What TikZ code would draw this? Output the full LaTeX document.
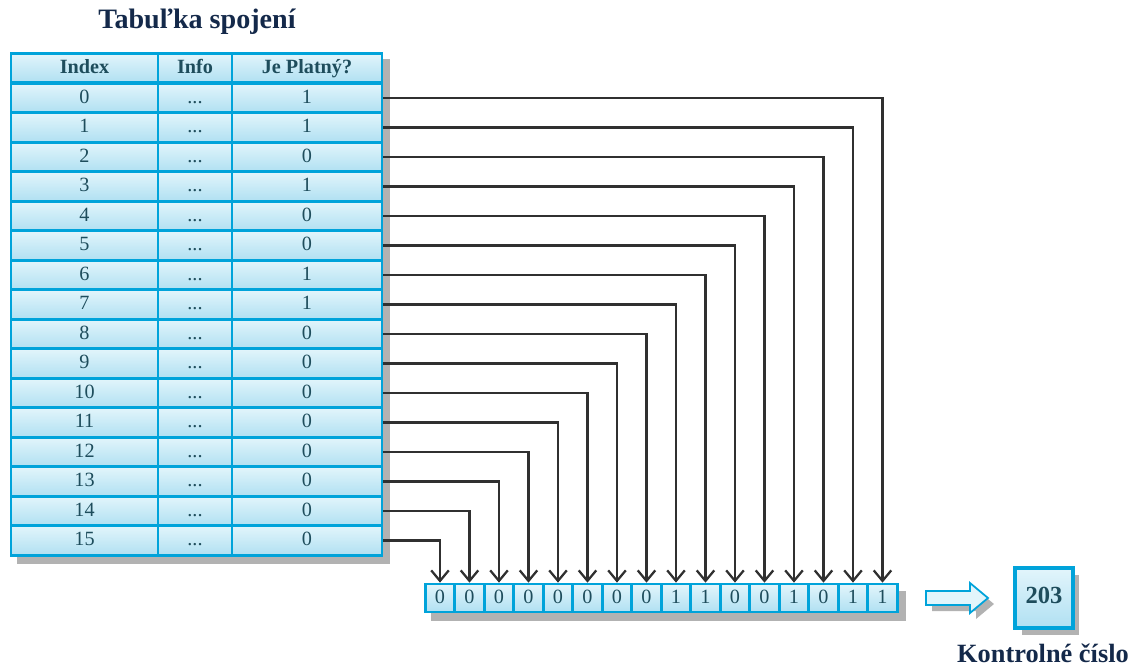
\documentclass[tikz,border=0pt]{standalone}
\usepackage{fontspec}
\setmainfont{Liberation Serif}
\usetikzlibrary{arrows.meta,positioning,shadows,backgrounds}
\definecolor{cellline}{HTML}{00A3DA}
\definecolor{celltop}{HTML}{E2F5FB}
\definecolor{cellbot}{HTML}{B0E0F2}
\definecolor{celltext}{HTML}{1E4D5C}
\definecolor{titletext}{HTML}{14294A}
\definecolor{wire}{HTML}{303030}

\begin{document}
\begin{tikzpicture}[x=0.02cm, y=-0.02cm,
  cell/.style={draw=cellline, line width=1.5pt, top color=celltop, bottom color=cellbot,
               text=celltext, inner sep=0pt, minimum height=0.59cm, text height=1.6ex, text depth=0.3ex,
               font=\fontsize{11.5}{13}\selectfont},
  head/.style={cell, font=\fontsize{11.5}{13}\selectfont\bfseries},
  bitcell/.style={cell, minimum width=0.59cm, minimum height=0.56cm},
  title/.style={text=titletext, font=\fontsize{16}{18}\selectfont\bfseries},
  shade/.style={fill=black!30},
  shadowbox/.style={drop shadow={shadow xshift=0.13cm, shadow yshift=-0.13cm, fill=black!30, opacity=1}},
  arr/.style={draw=wire, line width=1.3pt, -{Straight Barb[length=6pt,width=10pt]}}]
\useasboundingbox (0,0) rectangle (1134,667);

% table of links
\node[title] (tabtitle) at (197,22) {Tabuľka spojení};
\node[head, minimum width=2.94cm] (hidx) at (84.5,68) {Index};
\node[head, minimum width=1.48cm] (hinfo) at (195,68) {Info};
\node[head, minimum width=3.0cm] (hvalid) at (307,68) {Je Platný?};
\foreach \i/\v in {0/1,1/1,2/0,3/1,4/0,5/0,6/1,7/1,8/0,9/0,10/0,11/0,12/0,13/0,14/0,15/0} {
  \node[cell, minimum width=2.94cm] (idx\i) at (84.5,{98+29.5*\i}) {\i};
  \node[cell, minimum width=1.48cm] (info\i) at (195,{98+29.5*\i}) {...};
  \node[cell, minimum width=3.0cm] (valid\i) at (307,{98+29.5*\i}) {\v};
}

% bit vector
\foreach \b [count=\j from 0] in {0,0,0,0,0,0,0,0,1,1,0,0,1,0,1,1}
  \node[bitcell] (bit\j) at ({440+29.5*\j},598) {\b};

\foreach \i in {0,...,15} {
  \pgfmathtruncatemacro\j{15-\i}
  \draw[arr] (valid\i.east) -| (bit\j.north);
}

% checksum
\fill[shade] (932,597) -- (976,597) -- (976,589) -- (994,604) -- (976,619) -- (976,611) -- (932,611) -- cycle;
\draw[draw=cellline, fill=celltop, line width=1pt]
  (926,591) -- (970,591) -- (970,583) -- (988,598) -- (970,613) -- (970,605) -- (926,605) -- cycle;
\node[cell, line width=2.2pt, minimum width=1.16cm, minimum height=1.2cm,
      font=\fontsize{14}{16}\selectfont\bfseries, shadowbox] (sum) at (1044,598) {203};
\node[title, font=\fontsize{15}{17}\selectfont\bfseries, inner sep=1pt] (sumlabel) at (1043,653) {Kontrolné číslo};

\begin{scope}[on background layer]
\fill[shade] ([shift={(7,7)}]hidx.north west) rectangle ([shift={(7,7)}]valid15.south east);
\fill[shade] ([shift={(7,8)}]bit0.north west) rectangle ([shift={(7,8)}]bit15.south east);
\end{scope}
\end{tikzpicture}
\end{document}
